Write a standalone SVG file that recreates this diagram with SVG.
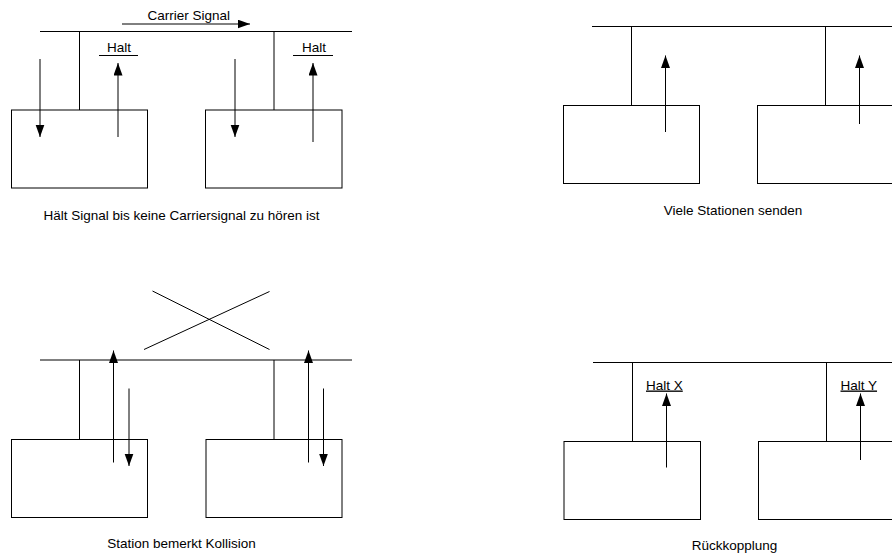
<svg xmlns="http://www.w3.org/2000/svg" width="892" height="553" viewBox="0 0 892 553">
<style>
.ln{stroke:#000;stroke-width:1;fill:none}
.box{stroke:#000;stroke-width:1;fill:#fff}
.ar{stroke:#000;stroke-width:1;fill:none;marker-end:url(#ah)}
text{font-family:"Liberation Sans",Arial,sans-serif;font-size:13.5px;fill:#000}
.c{text-anchor:middle}
</style>
<defs>
<marker id="ah" markerUnits="userSpaceOnUse" markerWidth="13" markerHeight="10" refX="12.5" refY="4.5" orient="auto">
<path d="M0,0 L12.5,4.5 L0,9 z" fill="#000"/>
</marker>
</defs>
<g id="panel1">
<g id="p1-bus"><line class="ln" x1="40" y1="31.5" x2="352" y2="31.5"/></g>
<g id="p1-station1">
<line class="ln" x1="79.5" y1="31.5" x2="79.5" y2="110"/>
<rect class="box" x="11.5" y="110" width="136" height="78"/>
</g>
<g id="p1-station2">
<line class="ln" x1="274" y1="31.5" x2="274" y2="110"/>
<rect class="box" x="205.5" y="110" width="136.5" height="78"/>
</g>
<g id="p1-labels">
<text x="147.5" y="19.5">Carrier Signal</text>
<text x="107" y="51.5">Halt</text>
<line class="ln" x1="99" y1="55.5" x2="138" y2="55.5"/>
<text x="302" y="51.5">Halt</text>
<line class="ln" x1="293" y1="55.5" x2="333" y2="55.5"/>
<text class="c" x="181.5" y="220">Hält Signal bis keine Carriersignal zu hören ist</text>
</g>
<g id="p1-connectors">
<line class="ar" x1="122" y1="24" x2="250" y2="24"/>
<line class="ar" x1="40" y1="59" x2="40" y2="137"/>
<line class="ar" x1="118" y1="137" x2="118" y2="63"/>
<line class="ar" x1="235" y1="59" x2="235" y2="137"/>
<line class="ar" x1="313" y1="142" x2="313" y2="63"/>
</g>
</g>
<g id="panel2">
<g id="p2-bus"><line class="ln" x1="592" y1="26.5" x2="892" y2="26.5"/></g>
<g id="p2-station1">
<line class="ln" x1="631.5" y1="26.5" x2="631.5" y2="105.5"/>
<rect class="box" x="563.5" y="105.5" width="136" height="78"/>
</g>
<g id="p2-station2">
<line class="ln" x1="825.5" y1="26.5" x2="825.5" y2="105.5"/>
<rect class="box" x="757.5" y="105.5" width="150" height="78"/>
</g>
<g id="p2-labels">
<text class="c" x="733" y="215">Viele Stationen senden</text>
</g>
<g id="p2-connectors">
<line class="ar" x1="665.5" y1="132" x2="665.5" y2="55.5"/>
<line class="ar" x1="859.5" y1="124" x2="859.5" y2="55.5"/>
</g>
</g>
<g id="panel3">
<g id="p3-cross">
<line class="ln" x1="152.5" y1="291" x2="269.5" y2="349.5"/>
<line class="ln" x1="144" y1="349.5" x2="269.5" y2="291.5"/>
</g>
<g id="p3-bus"><line class="ln" x1="40" y1="360" x2="352" y2="360"/></g>
<g id="p3-station1">
<line class="ln" x1="79.5" y1="360" x2="79.5" y2="439.5"/>
<rect class="box" x="11.5" y="439.5" width="136" height="78"/>
</g>
<g id="p3-station2">
<line class="ln" x1="274" y1="360" x2="274" y2="439.5"/>
<rect class="box" x="206" y="439.5" width="136" height="78"/>
</g>
<g id="p3-labels">
<text class="c" x="181.5" y="548">Station bemerkt Kollision</text>
</g>
<g id="p3-connectors">
<line class="ar" x1="113.5" y1="462.5" x2="113.5" y2="350.5"/>
<line class="ar" x1="129" y1="388.5" x2="129" y2="466"/>
<line class="ar" x1="308.5" y1="462.5" x2="308.5" y2="350.5"/>
<line class="ar" x1="323.5" y1="388.5" x2="323.5" y2="466"/>
</g>
</g>
<g id="panel4">
<g id="p4-bus"><line class="ln" x1="593" y1="362.5" x2="892" y2="362.5"/></g>
<g id="p4-station1">
<line class="ln" x1="632.5" y1="362.5" x2="632.5" y2="441.5"/>
<rect class="box" x="564" y="441.5" width="136.5" height="78"/>
</g>
<g id="p4-station2">
<line class="ln" x1="826.5" y1="362.5" x2="826.5" y2="441.5"/>
<rect class="box" x="758.5" y="441.5" width="150" height="78"/>
</g>
<g id="p4-labels">
<text x="646" y="389.5" text-decoration="underline">Halt X</text>
<text x="840.5" y="389.5" text-decoration="underline">Halt Y</text>
<text class="c" x="734.5" y="550">Rückkopplung</text>
</g>
<g id="p4-connectors">
<line class="ar" x1="666.5" y1="467.5" x2="666.5" y2="393.5"/>
<line class="ar" x1="860.5" y1="460" x2="860.5" y2="393.5"/>
</g>
</g>
</svg>
